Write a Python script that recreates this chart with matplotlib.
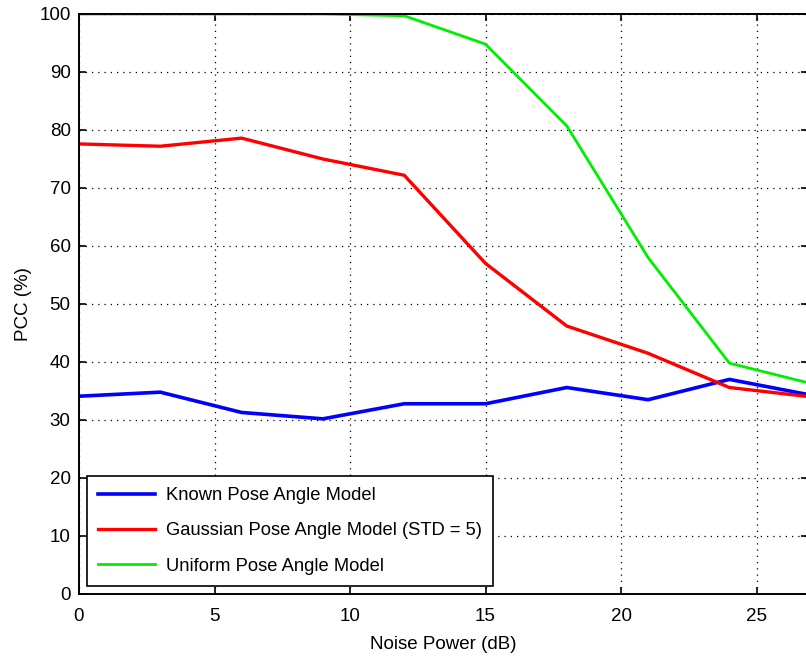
import matplotlib.pyplot as plt

noise_db = [0, 3, 6, 9, 12, 15, 18, 21, 24, 27]
known = [34.1, 34.8, 31.3, 30.2, 32.8, 32.8, 35.6, 33.5, 37.0, 34.3]
gaussian = [77.6, 77.2, 78.6, 75.0, 72.2, 57.0, 46.2, 41.5, 35.6, 34.0]
uniform = [100.0, 100.0, 100.0, 100.0, 99.7, 94.8, 80.7, 58.0, 39.8, 36.3]
labels = ["Known Pose Angle Model",
          "Gaussian Pose Angle Model (STD = 5)",
          "Uniform Pose Angle Model"]

plt.rcParams['font.family'] = ['Liberation Sans', 'DejaVu Sans']

fig = plt.figure(figsize=(8.06, 6.62), dpi=100)
# right edge of the axes sits just past the picture edge, as in the cropped original
ax = fig.add_axes([79 / 806, 68 / 662, 729 / 806, 580 / 662])

ax.plot(noise_db, known, color='#0000ff', lw=2.6, label=labels[0])
ax.plot(noise_db, gaussian, color='#ff0000', lw=2.4, label=labels[1])
ax.plot(noise_db, uniform, color='#00ee00', lw=2.0, label=labels[2])

ax.set_xlim(0, 26.9)
ax.set_ylim(0, 100)
ax.set_xticks(range(0, 26, 5))
ax.set_yticks(range(0, 101, 10))
ax.grid(True, color='black', linestyle=(0, (1, 4)), lw=0.9)
ax.tick_params(direction='in', labelsize=13.5, length=5, width=1.2,
               top=True, right=True)
ax.tick_params(axis='x', pad=10)
ax.tick_params(axis='y', pad=6)
for s in ax.spines.values():
    s.set_linewidth(1.4)
    s.set_zorder(5)

ax.set_xlabel("Noise Power (dB)", fontsize=13.5, labelpad=8)
ax.set_ylabel("PCC (%)", fontsize=13.5, labelpad=5)

leg = ax.legend(loc='lower left', bbox_to_anchor=(0.0, 0.0), fontsize=13.2,
                fancybox=False, edgecolor='black', framealpha=1,
                handlelength=3.1, handletextpad=0.6, labelspacing=1.0,
                borderaxespad=0.45, borderpad=0.6)
leg.get_frame().set_linewidth(1.2)

fig.savefig("out.png", dpi=100)
